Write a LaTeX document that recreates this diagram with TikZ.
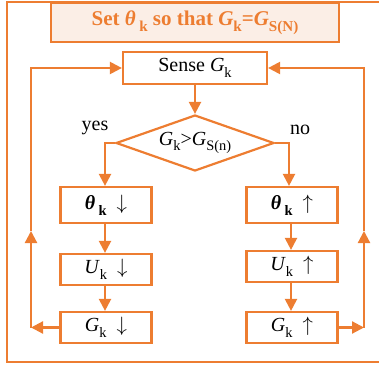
\documentclass[tikz,border=0pt]{standalone}
\usepackage{fontspec}
\setmainfont{Liberation Serif}
\usepackage{tikz}
\usetikzlibrary{arrows.meta,positioning,shapes.geometric}

\definecolor{ctrlorange}{HTML}{ED7D31}
\definecolor{titlefill}{HTML}{FBEEE6}
\newcommand{\lowsub}[1]{\raisebox{-0.28em}{\scalebox{0.72}{#1}}}
\newcommand{\Gk}{\textit{G}\lowsub{k}}

\begin{document}
\begin{tikzpicture}[
    x=1pt, y=-1pt,
    >={Triangle[length=12pt,width=12pt]},
    every node/.style={font=\fontsize{20}{22}\selectfont},
    flow/.style={draw=ctrlorange, line width=2.2pt},
    stepbox/.style={draw=ctrlorange, line width=2.2pt, fill=white, inner sep=0pt, minimum width=91pt, minimum height=32pt},
    headbox/.style={draw=ctrlorange, line width=2.2pt, fill=titlefill, inner sep=0pt, minimum width=288pt, minimum height=39pt, text=ctrlorange, font=\fontsize{21}{24}\selectfont\bfseries},
    test/.style={diamond, draw=ctrlorange, line width=2.2pt, inner sep=0pt, aspect=2.8, minimum width=158pt, minimum height=56pt}
]
\useasboundingbox (0,0) rectangle (379,366);

% frame round the loop
\draw[flow] (381,2) -- (7,2) -- (7,362) -- (381,362);

\node[headbox] (head) at (195,22.5) {Set \textit{θ}\,\lowsub{k} so that \textit{G}\lowsub{k}=\textit{G}\lowsub{S(N)}};

\node[stepbox, minimum width=144pt] (sense) at (195,68) {Sense \Gk};
\node[test] (cond) at (195,143) {\Gk>\textit{G}\lowsub{S(n)}};

\node[stepbox, minimum height=36pt] (thdown) at (106,205) {\textbf{\textit{θ}\,\lowsub{k}}\ \ $\downarrow$};
\node[stepbox, minimum height=36pt] (thup) at (292,205) {\textbf{\textit{θ}\,\lowsub{k}}\ \ $\uparrow$};
\node[stepbox, minimum height=31pt] (udown) at (106,269.5) {\textit{U}\lowsub{k}\ \ $\downarrow$};
\node[stepbox, minimum height=31pt] (uup) at (292,266.5) {\textit{U}\lowsub{k}\ \ $\uparrow$};
\node[stepbox, minimum height=31pt] (gdown) at (106,327.5) {\Gk\ \ $\downarrow$};
\node[stepbox, minimum height=31pt] (gup) at (292,327.5) {\Gk\ \ $\uparrow$};

\node (yes) at (95,128) {yes};
\node (no) at (300,130) {no};

\coordinate (lb) at (31,327.5);
\coordinate (lm) at (31,231);
\coordinate (lt) at (31,68);
\coordinate (rb) at (364,327.5);
\coordinate (rm) at (364,231);
\coordinate (rt) at (364,68);

\draw[flow, ->] (sense.south) -- (cond.north);
\draw[flow, ->] (cond.west) -| ([xshift=-1pt]thdown.north);
\draw[flow, ->] (cond.east) -| ([xshift=-3pt]thup.north);
\draw[flow, ->] ([xshift=-1pt]thdown.south) -- ([xshift=-1pt]udown.north);
\draw[flow, ->] ([xshift=-1pt]udown.south) -- ([xshift=-1pt]gdown.north);
\draw[flow, ->] ([xshift=-1pt]thup.south) -- ([xshift=-1pt]uup.north);
\draw[flow, ->] ([xshift=-1pt]uup.south) -- ([xshift=-1pt]gup.north);

\draw[flow, ->] (gdown.west) -- (lb);
\draw[flow, ->] (lb) -- (lm);
\draw[flow, ->] (lm) -- (lt) -- (sense.west);
\draw[flow, ->] (gup.east) -- (rb);
\draw[flow, ->] (rb) -- (rm);
\draw[flow, ->] (rm) -- (rt) -- (sense.east);

\end{tikzpicture}
\end{document}
